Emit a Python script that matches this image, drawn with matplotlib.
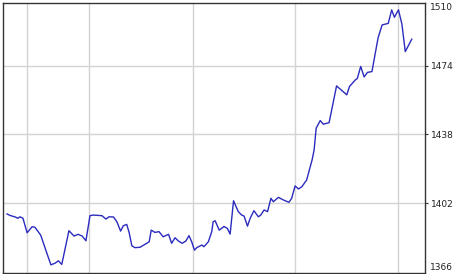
import matplotlib
matplotlib.use("Agg")
import matplotlib.pyplot as plt

# day offsets (calendar days from first point) and index values
days = [0, 0.9, 2.4, 3.2, 3.8, 4.7, 5.9, 7.4, 8.2, 9.9, 11.7, 12.9, 14.1, 15.1, 16.1,
        16.9, 18.2, 19.7, 20.9, 22.1, 23.2, 24.4, 25.4, 27.9, 29.1, 30.0, 31.3, 32.3,
        33.4, 34.2, 35.2, 35.9, 36.7, 37.6, 39.1, 41.1, 41.8, 42.4, 43.5, 44.7, 45.9,
        47.5, 48.4, 49.4, 50.4, 51.5, 52.6, 53.5, 54.3, 55.1, 55.8, 57.3, 57.9, 59.2,
        60.2, 60.6, 61.2, 62.4, 63.8, 64.8, 65.6, 66.6, 68.0, 69.0, 69.7, 70.7, 71.5,
        72.6, 73.9, 74.6, 75.6, 76.6, 77.6, 78.3, 79.8, 81.3, 82.9, 83.7, 84.7, 85.7,
        86.7, 88.1, 88.9, 89.7, 90.3, 90.9, 92.1, 93.0, 94.7, 96.9, 99.9, 100.7, 102.4,
        103.0, 104.0, 105.0, 106.0, 107.3, 109.1, 110.3, 112.1, 113.1, 113.9, 115.1,
        116.1, 117.1, 119.0]
values = [1396.3, 1395.5, 1394.7, 1394.0, 1394.8, 1394.0, 1386.4, 1389.6, 1389.3, 1385.2,
          1375.8, 1369.6, 1370.4, 1371.7, 1369.8, 1376.5, 1387.5, 1384.7, 1385.6, 1384.7,
          1382.2, 1395.4, 1395.7, 1395.4, 1393.6, 1394.8, 1394.7, 1392.2, 1387.3, 1390.1,
          1390.8, 1386.6, 1379.6, 1378.6, 1378.8, 1380.9, 1381.7, 1387.8, 1386.6, 1387.0,
          1384.3, 1385.6, 1380.9, 1383.8, 1382.1, 1380.9, 1382.1, 1384.9, 1381.7, 1377.3,
          1378.6, 1380.0, 1379.1, 1381.7, 1387.0, 1392.2, 1392.7, 1387.8, 1389.7, 1388.7,
          1385.7, 1403.2, 1397.5, 1395.7, 1395.2, 1389.9, 1394.0, 1398.0, 1394.8, 1395.7,
          1398.4, 1397.5, 1404.5, 1402.7, 1405.0, 1403.6, 1402.4, 1404.5, 1411.0, 1409.4,
          1410.6, 1414.1, 1419.4, 1424.6, 1429.9, 1441.3, 1445.3, 1443.4, 1444.2, 1463.5,
          1458.8, 1463.2, 1466.6, 1467.4, 1473.7, 1468.2, 1470.6, 1471.0, 1488.7, 1495.5,
          1496.3, 1503.4, 1499.5, 1503.4, 1496.0, 1481.5, 1488.0]

grid_days = [5.9, 24.1, 54.7, 84.7, 115.0]
ytick_vals = [1402, 1438, 1474]
ylabel_bottom = "1366"
ylabel_top = "1510"

W, H = 460, 274
fig = plt.figure(figsize=(W / 100, H / 100), dpi=100)
ax = fig.add_axes([3 / W, 1 / H, 422 / W, 270 / H])

ax.plot(days, values, color="#2b2bbf", linewidth=1.0, solid_joinstyle="round", zorder=3)

ax.set_xlim(-1.18, 122.9)
ax.set_ylim(1365.3, 1507.0)

ax.set_xticks(grid_days)
ax.set_xticklabels([])
ax.set_yticks(ytick_vals)
ax.yaxis.tick_right()
ax.tick_params(axis="y", direction="out", length=2.5, width=0.8, pad=2,
               labelsize=6.5, colors="#333333", labelcolor="#222222")
ax.tick_params(axis="x", direction="out", length=2, width=0.8, colors="#333333")

ax.grid(True, color="#d4d4d4", linewidth=1.0, zorder=0)
ax.set_axisbelow(True)

for s in ax.spines.values():
    s.set_color("#333333")
    s.set_linewidth(1.0)

ax.text(1.0, 1.0, ylabel_top, transform=ax.transAxes, ha="left", va="top",
        fontsize=6.5, color="#222222")
ax.text(1.0, 0.005, ylabel_bottom, transform=ax.transAxes, ha="left", va="bottom",
        fontsize=6.5, color="#222222")
for t in ax.texts:
    t.set_x(1.0 + 4.5 / 422)

fig.savefig("out.png", dpi=100, facecolor="white")
